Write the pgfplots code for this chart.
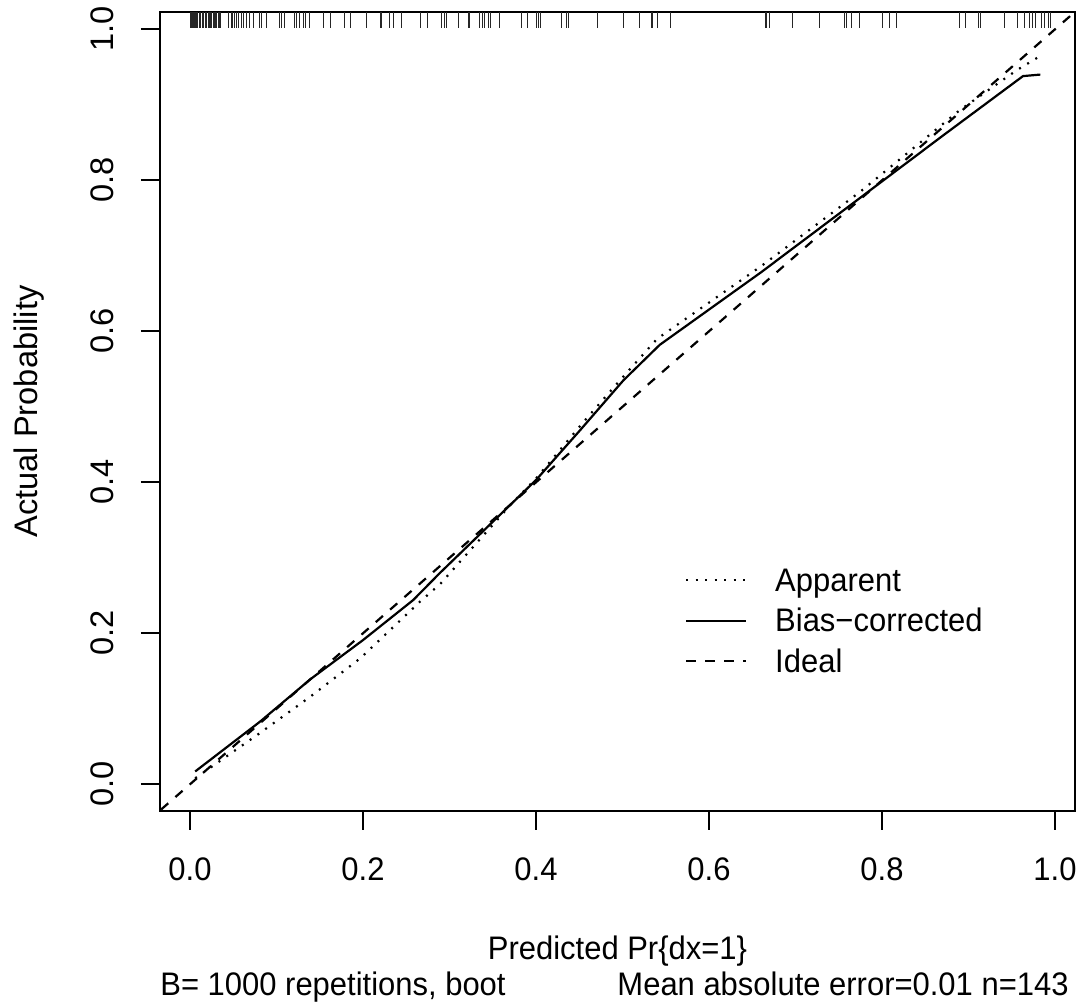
\documentclass[border=0pt]{standalone}
\usepackage{fontspec}
\setmainfont[FakeStretch=0.95]{Liberation Sans}
\newfontfamily\rotfont{Liberation Sans}
\usepackage{pgfplots}
\pgfplotsset{compat=1.18}
\begin{document}
\begin{tikzpicture}[font=\fontsize{16.3}{19.5}\selectfont]
\begin{axis}[
  scale only axis, width=457.5pt, height=399.2pt,
  xmin=-0.0347, xmax=1.0231, ymin=-0.035, ymax=1.0225,
  axis line style={line width=1.1pt},
  tick pos=left, tick align=outside, major tick length=9.5pt,
  tick style={black, line width=1.1pt},
  xtick={0,0.2,0.4,0.6,0.8,1}, ytick={0,0.2,0.4,0.6,0.8,1},
  xticklabels={0.0,0.2,0.4,0.6,0.8,1.0},
  yticklabels={0.0,0.2,0.4,0.6,0.8,1.0},
  xticklabel style={anchor=north, inner sep=0pt},
  yticklabel style={rotate=90, anchor=base, inner sep=0pt, font=\rotfont\fontsize{16.3}{19.5}\selectfont},
  xticklabel shift=13.8pt, yticklabel shift=13.8pt,
  legend style={draw=none, fill=none, at={(rel axis cs:0.5738,0.305)}, anchor=north west,
    inner sep=0pt, outer sep=0pt, row sep=4.3pt,
    nodes={inner sep=0pt, text height=12pt, text depth=4pt, anchor=base west}},
  legend cell align=left,
  legend image code/.code={\draw[#1, line width=1.1pt] (0pt,5.5pt) -- (30pt,5.5pt); \path (44pt,0pt);},
]
% rug of predicted probabilities (top)
\addplot[black!85, line width=0.5pt, quiver={u=0, v=-0.021}, forget plot] coordinates {
(0.001,1.0225) (0.002,1.0225) (0.003,1.0225) (0.004,1.0225) (0.005,1.0225) (0.006,1.0225) (0.008,1.0225) (0.009,1.0225) (0.011,1.0225) (0.012,1.0225)
(0.014,1.0225) (0.016,1.0225) (0.018,1.0225) (0.019,1.0225) (0.021,1.0225) (0.022,1.0225) (0.024,1.0225) (0.025,1.0225) (0.027,1.0225) (0.028,1.0225)
(0.030,1.0225) (0.031,1.0225) (0.033,1.0225) (0.034,1.0225) (0.035,1.0225)
(0.044,1.0225) (0.048,1.0225) (0.049,1.0225) (0.051,1.0225) (0.052,1.0225) (0.054,1.0225) (0.056,1.0225) (0.059,1.0225) (0.062,1.0225) (0.065,1.0225)
(0.069,1.0225) (0.073,1.0225) (0.080,1.0225) (0.083,1.0225) (0.088,1.0225) (0.104,1.0225) (0.106,1.0225) (0.109,1.0225) (0.121,1.0225) (0.123,1.0225)
(0.126,1.0225) (0.131,1.0225) (0.133,1.0225) (0.138,1.0225) (0.154,1.0225) (0.162,1.0225) (0.179,1.0225) (0.186,1.0225) (0.204,1.0225) (0.220,1.0225)
(0.221,1.0225) (0.231,1.0225) (0.235,1.0225) (0.245,1.0225) (0.266,1.0225) (0.274,1.0225) (0.291,1.0225) (0.294,1.0225) (0.297,1.0225) (0.310,1.0225)
(0.322,1.0225) (0.323,1.0225) (0.335,1.0225) (0.338,1.0225) (0.341,1.0225) (0.345,1.0225) (0.347,1.0225) (0.358,1.0225) (0.383,1.0225) (0.390,1.0225)
(0.401,1.0225) (0.403,1.0225) (0.405,1.0225) (0.429,1.0225) (0.435,1.0225) (0.438,1.0225) (0.471,1.0225) (0.501,1.0225) (0.520,1.0225) (0.534,1.0225)
(0.535,1.0225) (0.540,1.0225) (0.555,1.0225)
(0.665,1.0225) (0.667,1.0225) (0.670,1.0225) (0.696,1.0225) (0.728,1.0225) (0.757,1.0225) (0.759,1.0225) (0.765,1.0225) (0.774,1.0225) (0.801,1.0225)
(0.809,1.0225) (0.817,1.0225) (0.890,1.0225) (0.897,1.0225) (0.911,1.0225) (0.914,1.0225) (0.942,1.0225) (0.957,1.0225) (0.965,1.0225) (0.971,1.0225)
(0.974,1.0225) (0.978,1.0225) (0.984,1.0225) (0.988,1.0225) (0.993,1.0225) (0.995,1.0225)
};
% Apparent
\addplot[black, line width=1.1pt, dash pattern=on 1pt off 3.75pt] coordinates {
(0.006,0.008) (0.081,0.068) (0.139,0.116) (0.197,0.167) (0.266,0.242) (0.289,0.265)
(0.372,0.372) (0.400,0.405) (0.455,0.480) (0.497,0.535) (0.540,0.590) (0.660,0.686)
(0.775,0.785) (0.890,0.893) (0.956,0.946) (0.982,0.964)
};
\addlegendentry{Apparent}
% Bias-corrected
\addplot[black, line width=1.1pt, solid] coordinates {
(0.006,0.017) (0.081,0.083) (0.139,0.139) (0.200,0.191) (0.258,0.244) (0.289,0.280)
(0.372,0.372) (0.400,0.403) (0.451,0.469) (0.501,0.535) (0.543,0.582) (0.660,0.678)
(0.775,0.777) (0.869,0.858) (0.963,0.938) (0.983,0.940)
};
\addlegendentry{Bias−corrected}
% Ideal
\addplot[black, line width=1.1pt, dash pattern=on 4.75pt off 4.75pt] coordinates {
(-0.05,-0.05) (1.05,1.05)
};
\addlegendentry{Ideal}
\end{axis}
\node[rotate=90, anchor=base, inner sep=0pt, font=\rotfont\fontsize{16.3}{19.5}\selectfont] at ([xshift=-61pt]current axis.west) {Actual Probability};
\node[anchor=base, inner sep=0pt] at ([yshift=-74.6pt]current axis.south) {Predicted Pr\{dx=1\}};
\node[anchor=base west, inner sep=0pt] at ([yshift=-92.6pt]current axis.south west) {B= 1000 repetitions, boot};
\node[anchor=base east, inner sep=0pt] at ([xshift=-3pt,yshift=-92.6pt]current axis.south east) {Mean absolute error=0.01 n=143};
\pgfresetboundingbox
\path[use as bounding box] ([shift={(-80pt,-96.15pt)}]current axis.south west) rectangle ([shift={(4pt,6.15pt)}]current axis.north east);
\end{tikzpicture}
\end{document}
